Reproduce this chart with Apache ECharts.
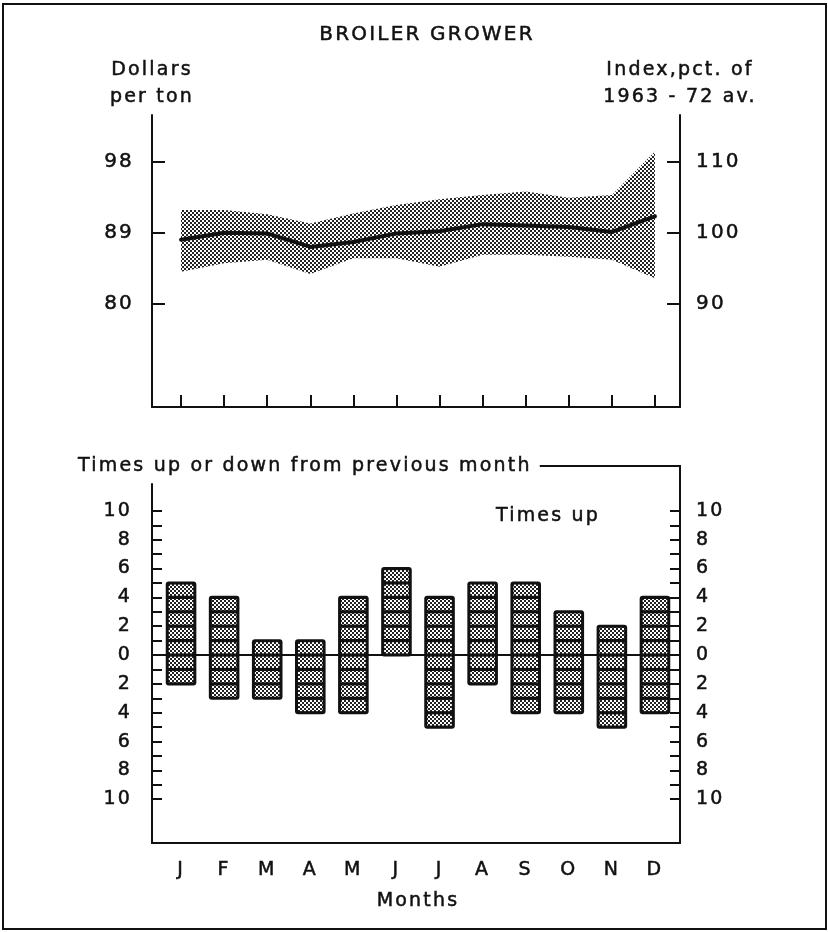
<!DOCTYPE html>
<html>
<head>
<meta charset="utf-8">
<script src="https://cdn.jsdelivr.net/npm/echarts@6.0.0/dist/echarts.min.js"></script>
<style>
html,body{margin:0;padding:0;background:#fff;}
#chart{width:828px;height:932px;}
</style>
</head>
<body>
<div id="chart"></div>
<script>
// ---------- data ----------
const months = ['J','F','M','A','M','J','J','A','S','O','N','D'];
// broiler grower price index (pct. of 1963-72 av.)
const indexAverage = [99.0, 100.0, 99.9, 98.0, 98.7, 99.9, 100.2, 101.2, 101.0, 100.8, 100.1, 102.3];
const indexUpper   = [103.2, 103.2, 102.6, 101.3, 102.7, 103.9, 104.7, 105.3, 105.8, 104.9, 105.3, 111.4];
const indexLower   = [94.5, 95.7, 96.2, 94.2, 96.4, 96.4, 95.2, 96.9, 96.9, 96.6, 96.2, 93.6];
const indexTicks = [90, 100, 110];
const dollarTickLabels = ['80', '89', '98'];
// times up / down from previous month
const timesUp   = [5, 4, 1, 1, 4, 6, 4, 5, 5, 3, 2, 4];
const timesDown = [2, 3, 3, 4, 4, 0, 5, 2, 4, 4, 5, 4];
const countTicks = [-10,-9,-8,-7,-6,-5,-4,-3,-2,-1,0,1,2,3,4,5,6,7,8,9,10];
const countLabels = [-10,-8,-6,-4,-2,0,2,4,6,8,10];

// ---------- styling ----------
const FONT = 'DejaVu Sans';
const INK = '#111';
const LETTER_SPACING = '2.2px';

// widen lettering like the original hand lettering
(function () {
  const P = CanvasRenderingContext2D.prototype;
  if (!('letterSpacing' in P)) return;
  const f = P.fillText, s = P.strokeText, m = P.measureText;
  P.fillText = function () { this.letterSpacing = LETTER_SPACING; return f.apply(this, arguments); };
  P.strokeText = function () { this.letterSpacing = LETTER_SPACING; return s.apply(this, arguments); };
  P.measureText = function () { this.letterSpacing = LETTER_SPACING; return m.apply(this, arguments); };
})();

function makePattern() {
  const c = document.createElement('canvas');
  c.width = 4; c.height = 4;
  const g = c.getContext('2d');
  g.fillStyle = '#fff'; g.fillRect(0, 0, 4, 4);
  g.fillStyle = '#222';
  g.fillRect(0, 0, 2, 2);
  g.fillRect(2, 2, 2, 2);
  return c;
}
const patternFill = { image: makePattern(), repeat: 'repeat' };

const topMin = 75.5, topMax = 116.54;
const botMin = -13.034, botMax = 11.862;

const frameTop = { left: 152, top: 115, width: 528, height: 292 };
const dataTop = { left: 159.5, top: 115, width: 517, height: 292 };
const frameBot = { left: 152, top: 484, width: 528, height: 359 };
const dataBot = { left: 159.5, top: 484, width: 517, height: 359 };

const lineAx = { show: true, onZero: false, lineStyle: { color: INK, width: 2 } };
const labelStyle = { color: INK, fontFamily: FONT, fontSize: 19, textBorderColor: INK, textBorderWidth: 0.5 };

function frameX(gi, extra) {
  return Object.assign({
    gridIndex: gi, type: 'value', min: 0, max: 1, position: 'bottom',
    axisLine: lineAx, axisTick: { show: false }, axisLabel: { show: false },
    splitLine: { show: false }
  }, extra || {});
}

const bandDiff = indexUpper.map((u, i) => +(u - indexLower[i]).toFixed(2));

function cell(cx, w, y1, y2) {
  return {
    type: 'rect',
    shape: { x: cx - w / 2 + 3, y: y1 + 1.6, width: w - 6, height: y2 - y1 - 3.2 },
    style: { fill: patternFill }
  };
}
function renderBar(params, api) {
  const i = api.value(0), up = api.value(1), down = api.value(2);
  const w = api.size([1, 0])[0] * 0.71;
  const top = api.coord([i, up]);
  const bot = api.coord([i, -down]);
  const cx = top[0];
  const children = [{
    type: 'rect',
    shape: { x: cx - w / 2, y: top[1] - 1.5, width: w, height: bot[1] - top[1] + 3, r: 3 },
    style: { fill: INK }
  }];
  for (let k = 0; k < up; k++) {
    const a = api.coord([i, k + 1]), b = api.coord([i, k]);
    children.push(cell(cx, w, a[1], b[1]));
  }
  for (let k = 0; k < down; k++) {
    const a = api.coord([i, -k]), b = api.coord([i, -k - 1]);
    children.push(cell(cx, w, a[1], b[1]));
  }
  return { type: 'group', children };
}

const chart = echarts.init(document.getElementById('chart'), null, { renderer: 'canvas' });

const headerText = 'Times up or down from previous month';
const measure = document.createElement('canvas').getContext('2d');
measure.font = '19px "' + FONT + '"';
const headerEnd = 78 + measure.measureText(headerText).width;

function gText(x, y, text, size, align) {
  return {
    type: 'text', x: x, y: y,
    style: {
      text: text, font: size + 'px "' + FONT + '"', fill: INK,
      stroke: INK, lineWidth: 0.5,
      textAlign: align, textVerticalAlign: 'middle'
    }
  };
}

const option = {
  animation: false,
  backgroundColor: '#fff',
  grid: [
    Object.assign({ show: false }, frameTop),
    Object.assign({ show: false }, dataTop),
    Object.assign({ show: false }, frameBot),
    Object.assign({ show: false }, dataBot)
  ],
  xAxis: [
    frameX(0),
    {
      gridIndex: 1, type: 'category', data: months, boundaryGap: true,
      axisLine: { show: false },
      axisTick: { show: true, inside: true, length: 12, alignWithLabel: true, interval: 0, lineStyle: { color: INK, width: 2 } },
      axisLabel: { show: false }, splitLine: { show: false }
    },
    frameX(2),
    frameX(2, { axisLine: { show: true, onZero: true, lineStyle: { color: INK, width: 2 } } }),
    {
      gridIndex: 3, type: 'category', data: months, boundaryGap: true,
      axisLine: { show: false },
      axisTick: { show: true, inside: true, length: 14, alignWithLabel: true, interval: 0, lineStyle: { color: INK, width: 2 } },
      axisLabel: Object.assign({ interval: 0, margin: 16 }, labelStyle),
      name: 'Months', nameLocation: 'middle', nameGap: 47,
      nameTextStyle: labelStyle,
      splitLine: { show: false }
    }
  ],
  yAxis: [
    {
      gridIndex: 0, type: 'value', position: 'left', min: topMin, max: topMax,
      axisLine: lineAx,
      axisTick: { show: true, inside: true, length: 13, customValues: indexTicks, lineStyle: { color: INK, width: 2 } },
      axisLabel: Object.assign({
        customValues: indexTicks, margin: 18,
        formatter: v => dollarTickLabels[indexTicks.indexOf(v)]
      }, labelStyle, { fontSize: 20 }),
      splitLine: { show: false },
      name: 'Dollars\nper ton', nameLocation: 'end', nameGap: 4,
      nameTextStyle: Object.assign({}, labelStyle, { lineHeight: 27, align: 'center' })
    },
    {
      gridIndex: 0, type: 'value', position: 'right', min: topMin, max: topMax,
      axisLine: lineAx,
      axisTick: { show: true, inside: true, length: 13, customValues: indexTicks, lineStyle: { color: INK, width: 2 } },
      axisLabel: Object.assign({ customValues: indexTicks, margin: 16 }, labelStyle, { fontSize: 20 }),
      splitLine: { show: false },
      name: 'Index,pct. of\n1963 - 72 av.', nameLocation: 'end', nameGap: 4,
      nameTextStyle: Object.assign({}, labelStyle, { lineHeight: 27, align: 'center' })
    },
    { gridIndex: 1, type: 'value', show: false, min: topMin, max: topMax, axisLine: { onZero: false } },
    {
      gridIndex: 2, type: 'value', position: 'left', min: botMin, max: botMax,
      axisLine: lineAx,
      axisTick: { show: true, inside: true, length: 10, customValues: countTicks, lineStyle: { color: INK, width: 2 } },
      axisLabel: Object.assign({ customValues: countLabels, margin: 20, formatter: v => String(Math.abs(v)) }, labelStyle),
      splitLine: { show: false }
    },
    {
      gridIndex: 2, type: 'value', position: 'right', min: botMin, max: botMax,
      axisLine: lineAx,
      axisTick: { show: true, inside: true, length: 10, customValues: countTicks, lineStyle: { color: INK, width: 2 } },
      axisLabel: Object.assign({ customValues: countLabels, margin: 16, formatter: v => String(Math.abs(v)) }, labelStyle),
      splitLine: { show: false }
    },
    { gridIndex: 3, type: 'value', show: false, min: botMin, max: botMax, axisLine: { onZero: false } }
  ],
  series: [
    {
      name: 'lower', type: 'line', xAxisIndex: 1, yAxisIndex: 2, stack: 'band',
      data: indexLower, symbol: 'none', lineStyle: { opacity: 0 }, silent: true
    },
    {
      name: 'range', type: 'line', xAxisIndex: 1, yAxisIndex: 2, stack: 'band',
      data: bandDiff, symbol: 'none', lineStyle: { opacity: 0 },
      areaStyle: { color: patternFill, opacity: 1 }, silent: true
    },
    {
      name: 'average', type: 'line', xAxisIndex: 1, yAxisIndex: 2,
      data: indexAverage, symbol: 'none', z: 5,
      lineStyle: { color: INK, width: 4, join: 'round', cap: 'round' }
    },
    {
      name: 'times', type: 'custom', xAxisIndex: 4, yAxisIndex: 5,
      data: months.map((m, i) => [i, timesUp[i], timesDown[i]]),
      encode: { x: 0, y: [1, 2] },
      renderItem: renderBar, z: 3
    }
  ],
  graphic: [
    { type: 'rect', shape: { x: 3, y: 4, width: 823, height: 925 }, style: { fill: 'none', stroke: INK, lineWidth: 2 } },
    gText(427, 35, 'BROILER GROWER', 20, 'center'),
    gText(78, 466, headerText, 19, 'left'),
    { type: 'polyline', shape: { points: [[headerEnd + 8, 466], [680, 466], [680, 485]] }, style: { stroke: INK, lineWidth: 2, fill: 'none' } },
    gText(548, 516, 'Times up', 19, 'center')
  ]
};
chart.setOption(option);
</script>
</body>
</html>
